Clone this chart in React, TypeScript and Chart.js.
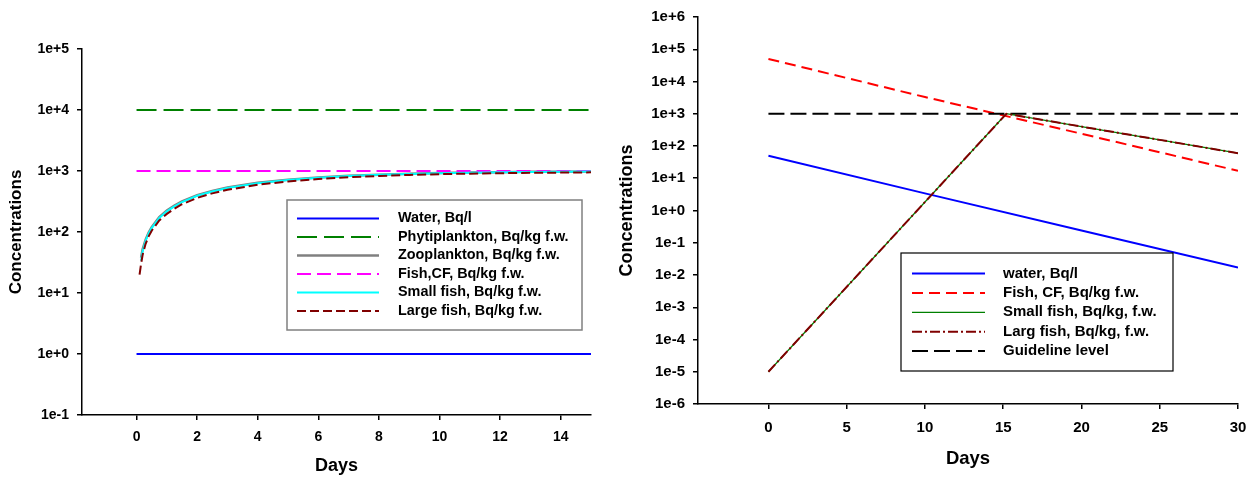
import React, { useEffect, useRef } from 'react';
import { Chart, registerables } from 'chart.js';

Chart.register(...registerables);

// ---------- Left chart data ----------
const leftConstDays = [0, 15];
const leftWater = [1, 1];
const leftPhyto = [10000, 10000];
const leftFishCF = [1000, 1000];
const leftZooDays = [0.15, 0.2, 0.3, 0.4, 0.5, 0.75, 1, 1.25, 1.5, 2, 2.5, 3, 4, 5, 6, 7, 8, 9, 10, 11, 12, 13, 14, 15];
const leftZoo = [38, 52, 75, 98, 120, 175, 225, 270, 318, 400, 470, 535, 640, 720, 785, 835, 870, 900, 925, 945, 958, 968, 976, 982];
const leftSmallFish = [34, 48, 72, 95, 116, 170, 218, 263, 310, 392, 462, 527, 632, 713, 777, 827, 864, 895, 920, 940, 953, 964, 973, 980];
const leftLargeDays = [0.1, 0.15, 0.2, 0.3, 0.4, 0.5, 0.75, 1, 1.25, 1.5, 2, 2.5, 3, 4, 5, 6, 7, 8, 9, 10, 11, 12, 13, 14, 15];
const leftLargeFish = [20, 30, 42, 64, 85, 105, 155, 198, 240, 285, 362, 430, 492, 595, 675, 740, 790, 830, 862, 888, 905, 920, 932, 942, 950];
const leftXTicks = [0, 2, 4, 6, 8, 10, 12, 14];
const leftYTicks = [0.1, 1, 10, 100, 1000, 10000, 100000];

// ---------- Right chart data ----------
const rightLinDays = [0, 10, 20, 30];
const rightWater = [50, 3.4, 0.24, 0.017];
const rightFishCF = [50000, 3300, 240, 17];
const rightFishDays = [0, 15.2, 20, 25, 30];
const rightSmallFish = [1e-5, 1000, 400, 155, 60];
const rightLargeFish = [1e-5, 1000, 400, 155, 60];
const rightGuideDays = [0, 30];
const rightGuide = [1000, 1000];
const rightXTicks = [0, 5, 10, 15, 20, 25, 30];
const rightYTicks = [1e-6, 1e-5, 1e-4, 1e-3, 1e-2, 1e-1, 1, 10, 100, 1000, 1e4, 1e5, 1e6];

const FONT = '"Liberation Sans", Arial, Helvetica, sans-serif';

const pts = (xs: number[], ys: number[]) => xs.map((x, i) => ({ x, y: ys[i] }));

const expLabel = (v: number) => {
  const e = Math.round(Math.log10(v));
  return '1e' + (e >= 0 ? '+' : '') + e;
};

const boxLegendPlugin = {
  id: 'boxLegend',
  afterDatasetsDraw(chart: any, _args: any, opts: any) {
    const ctx = chart.ctx;
    ctx.save();
    ctx.fillStyle = '#ffffff';
    ctx.fillRect(opts.x1, opts.y1, opts.x2 - opts.x1, opts.y2 - opts.y1);
    ctx.strokeStyle = opts.borderColor;
    ctx.lineWidth = opts.borderWidth;
    ctx.strokeRect(opts.x1, opts.y1, opts.x2 - opts.x1, opts.y2 - opts.y1);
    const ds = chart.data.datasets;
    ds.forEach((d: any, i: number) => {
      const y = opts.rowY + i * opts.rowStep;
      ctx.save();
      ctx.setLineDash(d.borderDash || []);
      ctx.strokeStyle = d.borderColor;
      ctx.lineWidth = d.borderWidth;
      ctx.beginPath();
      ctx.moveTo(opts.lineX1, y);
      ctx.lineTo(opts.lineX2, y);
      ctx.stroke();
      ctx.restore();
      ctx.fillStyle = '#000';
      ctx.font = `bold ${opts.fontSize}px ${FONT}`;
      ctx.textBaseline = 'middle';
      ctx.textAlign = 'left';
      ctx.fillText(d.label, opts.textX, y);
    });
    ctx.restore();
  },
};

function makeOptions(cfg: any) {
  return {
    animation: false,
    responsive: true,
    maintainAspectRatio: false,
    events: [],
    layout: { padding: cfg.padding },
    elements: { point: { radius: 0 }, line: { tension: 0, fill: false } },
    plugins: {
      legend: { display: false },
      tooltip: { enabled: false },
      boxLegend: cfg.legend,
    },
    scales: {
      x: {
        type: 'linear',
        min: cfg.xMin,
        max: cfg.xMax,
        afterBuildTicks: (s: any) => {
          s.ticks = cfg.xTicks.map((v: number) => ({ value: v }));
        },
        afterFit: (s: any) => {
          s.height = cfg.xHeight;
        },
        border: { display: true, color: '#000', width: 1.5 },
        grid: { display: true, drawOnChartArea: false, drawTicks: true, tickLength: 5, color: '#000', lineWidth: 1.5 },
        ticks: {
          color: '#000',
          padding: cfg.xTickPad,
          maxRotation: 0,
          autoSkip: false,
          font: { family: FONT, size: cfg.tickSize, weight: 'bold' },
        },
        title: {
          display: true,
          text: 'Days',
          color: '#000',
          padding: { top: 0, bottom: cfg.xTitlePad },
          font: { family: FONT, size: cfg.xTitleSize, weight: 'bold' },
        },
      },
      y: {
        type: 'logarithmic',
        min: cfg.yMin,
        max: cfg.yMax,
        afterBuildTicks: (s: any) => {
          s.ticks = cfg.yTicks.map((v: number) => ({ value: v, major: false }));
        },
        afterFit: (s: any) => {
          s.width = cfg.yWidth;
        },
        border: { display: true, color: '#000', width: 1.5 },
        grid: { display: true, drawOnChartArea: false, drawTicks: true, tickLength: 5, color: '#000', lineWidth: 1.5 },
        ticks: {
          color: '#000',
          padding: 8,
          autoSkip: false,
          callback: (v: any) => expLabel(Number(v)),
          font: { family: FONT, size: cfg.tickSize, weight: 'bold' },
        },
        title: {
          display: true,
          text: 'Concentrations',
          color: '#000',
          padding: { top: 6, bottom: 0 },
          font: { family: FONT, size: cfg.yTitleSize, weight: 'bold' },
        },
      },
    },
  };
}

function ChartCanvas({ config, style }: { config: any; style: React.CSSProperties }) {
  const ref = useRef<HTMLCanvasElement | null>(null);
  useEffect(() => {
    if (!ref.current) return;
    const chart = new Chart(ref.current, config);
    return () => chart.destroy();
  }, []);
  return (
    <div style={{ position: 'absolute', ...style }}>
      <canvas ref={ref} />
    </div>
  );
}

const leftConfig = {
  type: 'line',
  data: {
    datasets: [
      { label: 'Water, Bq/l', data: pts(leftConstDays, leftWater), borderColor: '#0000ff', borderWidth: 2, borderDash: [], order: 5 },
      { label: 'Phytiplankton, Bq/kg f.w.', data: pts(leftConstDays, leftPhyto), borderColor: '#008000', borderWidth: 2, borderDash: [20, 7], order: 4 },
      { label: 'Zooplankton, Bq/kg f.w.', data: pts(leftZooDays, leftZoo), borderColor: '#808080', borderWidth: 2.5, borderDash: [], order: 3 },
      { label: 'Fish,CF, Bq/kg f.w.', data: pts(leftConstDays, leftFishCF), borderColor: '#ff00ff', borderWidth: 2, borderDash: [14, 6], order: 2 },
      { label: 'Small fish, Bq/kg f.w.', data: pts(leftZooDays, leftSmallFish), borderColor: '#00ffff', borderWidth: 2, borderDash: [], order: 1 },
      { label: 'Large fish, Bq/kg f.w.', data: pts(leftLargeDays, leftLargeFish), borderColor: '#800000', borderWidth: 2, borderDash: [9, 4], order: 0 },
    ],
  },
  options: makeOptions({
    padding: { left: 0, top: 49, right: 19, bottom: 0 },
    xMin: -1.8,
    xMax: 15,
    xTicks: leftXTicks,
    xHeight: 62,
    xTickPad: 9,
    xTitlePad: 0,
    yMin: 0.1,
    yMax: 100000,
    yTicks: leftYTicks,
    yWidth: 82,
    tickSize: 14,
    xTitleSize: 18,
    yTitleSize: 17,
    legend: {
      x1: 287, y1: 200, x2: 582, y2: 330,
      borderColor: '#808080', borderWidth: 1.5,
      lineX1: 297, lineX2: 379, textX: 398,
      rowY: 218.5, rowStep: 18.5, fontSize: 14.4,
    },
  }),
  plugins: [boxLegendPlugin],
};

const rightConfig = {
  type: 'line',
  data: {
    datasets: [
      { label: 'water, Bq/l', data: pts(rightLinDays, rightWater), borderColor: '#0000ff', borderWidth: 2, borderDash: [], order: 4 },
      { label: 'Fish, CF, Bq/kg f.w.', data: pts(rightLinDays, rightFishCF), borderColor: '#ff0000', borderWidth: 2, borderDash: [11, 6], order: 3 },
      { label: 'Small fish, Bq/kg, f.w.', data: pts(rightFishDays, rightSmallFish), borderColor: '#008000', borderWidth: 1.2, borderDash: [], order: 1 },
      { label: 'Larg fish, Bq/kg, f.w.', data: pts(rightFishDays, rightLargeFish), borderColor: '#800000', borderWidth: 2, borderDash: [10, 3, 2, 3], order: 0 },
      { label: 'Guideline level', data: pts(rightGuideDays, rightGuide), borderColor: '#000000', borderWidth: 2, borderDash: [16, 6], order: 2 },
    ],
  },
  options: makeOptions({
    padding: { left: 0, top: 17, right: 29, bottom: 0 },
    xMin: -4.5,
    xMax: 30,
    xTicks: rightXTicks,
    xHeight: 73,
    xTickPad: 10,
    xTitlePad: 7,
    yMin: 1e-6,
    yMax: 1e6,
    yTicks: rightYTicks,
    yWidth: 88,
    tickSize: 15,
    xTitleSize: 18.5,
    yTitleSize: 18,
    legend: {
      x1: 291, y1: 253, x2: 563, y2: 371,
      borderColor: '#000000', borderWidth: 1.2,
      lineX1: 302, lineX2: 375, textX: 393,
      rowY: 273.5, rowStep: 19.4, fontSize: 15,
    },
  }),
  plugins: [boxLegendPlugin],
};

export default function App() {
  return (
    <div style={{ position: 'absolute', left: 0, top: 0, width: 1247, height: 477, overflow: 'hidden', background: '#fff' }}>
      <ChartCanvas config={leftConfig} style={{ left: 0, top: 0, width: 610, height: 477 }} />
      <ChartCanvas config={rightConfig} style={{ left: 610, top: 0, width: 657, height: 477 }} />
    </div>
  );
}
